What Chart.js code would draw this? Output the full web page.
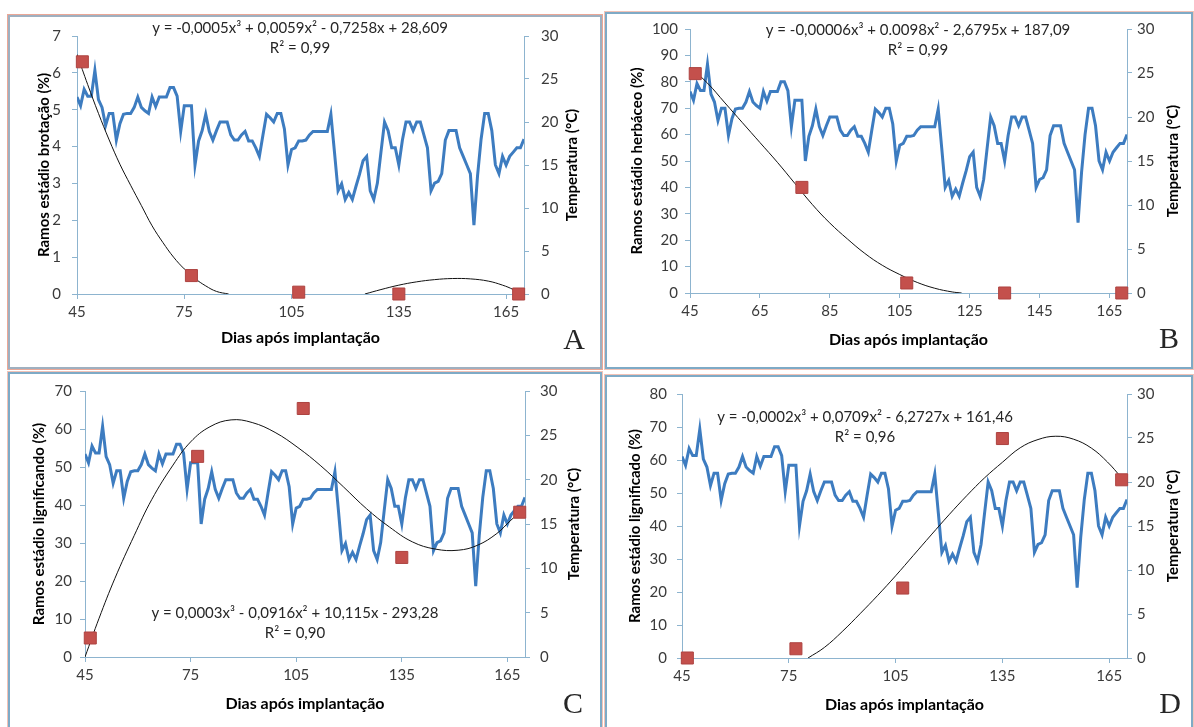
<!DOCTYPE html>
<html>
<head>
<meta charset="utf-8">
<script src="https://cdn.jsdelivr.net/npm/chart.js@4.4.1/dist/chart.umd.min.js"></script>
<style>
  body { margin: 0; background: #fff; width: 1194px; height: 727px; position: relative; overflow: hidden; }
  canvas { position: absolute; }
  .frame { position: absolute; box-sizing: border-box; border: 2px solid #7eaac6; box-shadow: 0 0 0 1px #f2c2b6; pointer-events: none; }
</style>
</head>
<body>
<div class="frame" style="left:8px;top:15px;width:594px;height:354px;border-color:#9fb0c0;box-shadow:0 0 0 1px #eba796"></div>
<div class="frame" style="left:605px;top:12px;width:588px;height:357px"></div>
<div class="frame" style="left:8px;top:372px;width:594px;height:360px"></div>
<div class="frame" style="left:605px;top:375px;width:588px;height:357px"></div>
<canvas id="cA" width="592" height="351" style="left:8px;top:15px"></canvas>
<canvas id="cB" width="590" height="354" style="left:604px;top:12px"></canvas>
<canvas id="cC" width="592" height="355" style="left:8px;top:372px"></canvas>
<canvas id="cD" width="589" height="352" style="left:605px;top:375px"></canvas>

<script>
// daily temperature (°C), same series in all four panels
const tempDays = [45,46,47,48,49,50,51,52,53,54,55,56,57,58,59,60,61,62,63,64,65,66,67,68,69,70,
  71,72,73,74,75,76,77,78,79,80,81,82,83,84,85,86,87,88,89,90,91,92,93,94,95,96,97,98,99,100,
  101,102,103,104,105,106,107,108,109,110,111,112,113,114,115,116,117,118,119,120,121,122,123,124,125,
  126,127,128,129,130,131,132,133,134,135,136,137,138,139,140,141,142,143,144,145,146,147,148,149,150,
  151,152,153,154,155,156,157,158,159,160,161,162,163,164,165,166,167,168,169,170];
const temps = [
  22.9, 21.9, 23.8, 23.0, 23.0, 26.0, 22.6, 21.7, 19.6, 21.0,
  21.0, 17.9, 19.8, 20.9, 21.0, 21.0, 21.7, 22.9, 21.7, 21.3,
  21.0, 22.9, 21.8, 22.9, 22.9, 22.9, 24.0, 24.0, 23.0, 18.9,
  21.9, 21.9, 21.9, 15.0, 17.8, 19.0, 20.9, 18.9, 17.9, 19.0,
  20.0, 20.0, 20.0, 18.5, 17.9, 17.9, 18.5, 18.9, 17.8, 17.8,
  17.0, 16.0, 18.5, 20.9, 20.5, 20.0, 21.0, 21.0, 19.2, 15.0,
  16.8, 17.0, 17.8, 17.8, 17.9, 18.5, 18.9, 18.9, 18.9, 18.9,
  18.9, 20.9, 16.5, 12.0, 12.8, 11.0, 11.8, 11.0, 12.5, 13.9,
  15.5, 16.0, 12.0, 11.0, 12.9, 16.5, 20.0, 19.0, 17.0, 17.0,
  15.0, 17.9, 20.0, 20.0, 19.0, 20.0, 20.0, 18.5, 17.0, 12.0,
  12.9, 13.1, 14.0, 17.9, 19.0, 19.0, 19.0, 17.0, 16.0, 15.0,
  14.0, 8.0, 13.7, 18.0, 21.0, 21.0, 19.0, 15.0, 14.0, 16.0,
  15.0, 16.0, 16.5, 17.0, 17.0, 18.0
];

// sampling days and measured percentages
const sampleDays = [46.5, 77, 107, 135, 168.5];
const brotacao = [6.3, 0.5, 0.05, 0, 0];
const herbaceo = [83.1, 40, 3.8, 0, 0];
const lignificando = [5, 52.8, 65.4, 26.2, 38.1];
const lignificado = [0, 2.8, 21.2, 66.5, 54];

// trend lines (null = gap)
const trendADays = [45, 48, 51, 54, 57, 60, 63, 66, 69, 72, 75, 78, 81, 84, 87.4, 106, 125.5, 130, 135, 140, 145, 150, 155, 160, 164, 167, 169];
const trendAVals = [6.5, 5.68, 4.9, 4.18, 3.52, 2.95, 2.4, 1.85, 1.4, 1.0, 0.68, 0.42, 0.22, 0.07, 0, null, 0, 0.12, 0.24, 0.33, 0.39, 0.42, 0.41, 0.35, 0.24, 0.12, 0];
const trendBDays = [45, 50, 55, 60, 65, 70, 75, 80, 85, 90, 95, 100, 105, 110, 115, 120, 122.7];
const trendBVals = [85.5, 79.5, 72, 64.5, 57, 49.5, 41.5, 33.5, 26.5, 20.5, 15, 10.5, 7, 4, 1.8, 0.4, 0];
const trendCDays = [45, 49, 53.5, 59, 64, 70, 75, 80.5, 86.5, 92.5, 99, 105.5, 112, 118.5, 125, 131.5, 138, 144.5, 151, 156.5, 162, 166, 170];
const trendCVals = [0, 10.2, 20.7, 32, 41.5, 50.5, 56.6, 60.6, 62.4, 61.7, 59.1, 55.1, 50.3, 44.7, 39, 34.2, 30.3, 28.4, 28.1, 29.4, 32.5, 36, 39.3];
const trendDDays = [80.4, 85, 90, 95, 100, 105, 110, 115, 120, 125, 130, 135, 140, 145, 150, 155, 160, 164.5, 168.5];
const trendDVals = [0, 3.2, 8, 13.4, 19, 24.9, 31.1, 37.3, 43.4, 49.2, 54.6, 59.3, 63.7, 66.2, 67.2, 66.3, 63.6, 59.4, 54.6];

// tick labels
const xTicks30 = [45, 75, 105, 135, 165];
const xTicks20 = [45, 65, 85, 105, 125, 145, 165];

const AXIS = '#8db4cf';
const FONT = 'Lato, "Liberation Sans", sans-serif';
Chart.defaults.font.family = FONT;
Chart.defaults.font.size = 15;
Chart.defaults.color = '#3a3a3a';

const panelText = {
  id: 'panelText',
  afterDraw(chart, args, o) {
    const ctx = chart.ctx, a = chart.chartArea;
    ctx.save();
    ctx.fillStyle = '#262626';
    ctx.textAlign = 'center';
    ctx.textBaseline = 'middle';
    ctx.font = '15px ' + FONT;
    ctx.fillText(o.eq, o.eqX, o.eqY);
    ctx.fillText(o.r2, o.eqX, o.eqY + 20);
    ctx.font = '30px "Liberation Serif", "DejaVu Serif", serif';
    ctx.fillText(o.letter, o.letterX, o.letterY);
    ctx.fillStyle = '#000';
    ctx.font = 'bold 15px ' + FONT;
    ctx.translate(o.tX, (a.top + a.bottom) / 2);
    ctx.rotate(-Math.PI / 2);
    ctx.fillText('Temperatura (°C)', 0, 0);
    ctx.restore();
  }
};

function pts(xs, ys) {
  return xs.map((x, i) => ({ x: x, y: ys[i] }));
}

function makePanel(p) {
  new Chart(document.getElementById(p.id), {
    type: 'line',
    data: {
      datasets: [
        {
          type: 'scatter', data: pts(sampleDays, p.values), yAxisID: 'y',
          pointStyle: 'rect', pointRadius: 8.5, backgroundColor: '#c4504c',
          borderColor: '#ad4340', borderWidth: 1, clip: false, order: 0
        },
        {
          data: pts(p.trendDays, p.trendVals), yAxisID: 'y', borderColor: '#111',
          borderWidth: 1, pointRadius: 0, tension: 0.4, spanGaps: false, order: 1
        },
        {
          data: pts(tempDays, temps), yAxisID: 'yT', borderColor: '#3d7cc0',
          borderWidth: 3, pointRadius: 0, tension: 0, order: 2
        }
      ]
    },
    options: {
      responsive: false,
      animation: false,
      events: [],
      layout: { padding: { top: p.top, left: 0, right: 0, bottom: 0 } },
      plugins: {
        legend: { display: false },
        tooltip: { enabled: false },
        panelText: p.text
      },
      scales: {
        x: {
          type: 'linear', min: 45, max: 170,
          afterBuildTicks: s => { s.ticks = p.xTicks.map(v => ({ value: v })); },
          afterFit: s => { s.height = p.xH; },
          grid: { drawOnChartArea: false, color: AXIS, tickLength: 5 },
          border: { color: AXIS },
          ticks: { padding: 4, maxRotation: 0 },
          title: {
            display: true, text: 'Dias após implantação', color: '#000',
            font: { size: 16, weight: 'bold' }, padding: { top: 0, bottom: p.xTitlePad }
          }
        },
        y: {
          position: 'left', min: 0, max: p.yMax,
          ticks: { stepSize: p.yStep, padding: p.yPad },
          afterFit: s => { s.width = p.yW; },
          grid: { drawOnChartArea: false, color: AXIS, tickLength: 5 },
          border: { color: AXIS },
          title: {
            display: true, text: p.yTitle, color: '#000',
            font: { size: 15, weight: 'bold' }, padding: { top: p.yTitlePad, bottom: 0 }
          }
        },
        yT: {
          position: 'right', min: 0, max: 30,
          ticks: { stepSize: 5, padding: p.tPad },
          afterFit: s => { s.width = p.tW; },
          grid: { drawOnChartArea: false, color: AXIS, tickLength: 5 },
          border: { color: AXIS }
        }
      }
    },
    plugins: [panelText]
  });
}

makePanel({
  id: 'cA', values: brotacao, trendDays: trendADays, trendVals: trendAVals,
  top: 18, yW: 69, tW: 76, xH: 72, yMax: 7, yStep: 1, xTicks: xTicks30,
  yPad: 11, tPad: 12,
  yTitle: 'Ramos estádio brotação (%)', yTitlePad: 27.5, xTitlePad: 19,
  text: { eq: 'y = -0,0005x³ + 0,0059x² - 0,7258x + 28,609', r2: 'R² = 0,99',
          eqX: 292, eqY: 13, tX: 564, letter: 'A', letterX: 566, letterY: 326 }
});
makePanel({
  id: 'cB', values: herbaceo, trendDays: trendBDays, trendVals: trendBVals,
  top: 17, yW: 86, tW: 67, xH: 73, yMax: 100, yStep: 10, xTicks: xTicks20,
  yPad: 7, tPad: 5,
  yTitle: 'Ramos estádio herbáceo (%)', yTitlePad: 24.5, xTitlePad: 17,
  text: { eq: 'y = -0,00006x³ + 0.0098x² - 2,6795x + 187,09', r2: 'R² = 0,99',
          eqX: 314, eqY: 18, tX: 569, letter: 'B', letterX: 565, letterY: 328 }
});
makePanel({
  id: 'cC', values: lignificando, trendDays: trendCDays, trendVals: trendCVals,
  top: 18, yW: 77, tW: 75, xH: 70, yMax: 70, yStep: 10, xTicks: xTicks30,
  yPad: 8, tPad: 10,
  yTitle: 'Ramos estádio lignificando (%)', yTitlePad: 22.5, xTitlePad: 14,
  text: { eq: 'y = 0,0003x³ - 0,0916x² + 10,115x - 293,28', r2: 'R² = 0,90',
          eqX: 287, eqY: 241, tX: 566, letter: 'C', letterX: 565, letterY: 333 }
});
makePanel({
  id: 'cD', values: lignificado, trendDays: trendDDays, trendVals: trendDVals,
  top: 19, yW: 77, tW: 67, xH: 69, yMax: 80, yStep: 10, xTicks: xTicks30,
  yPad: 10, tPad: 5,
  yTitle: 'Ramos estádio lignificado (%)', yTitlePad: 21.5, xTitlePad: 13,
  text: { eq: 'y = -0,0002x³ + 0,0709x² - 6,2727x + 161,46', r2: 'R² = 0,96',
          eqX: 260, eqY: 42, tX: 568, letter: 'D', letterX: 565, letterY: 330 }
});
</script>
</body>
</html>
